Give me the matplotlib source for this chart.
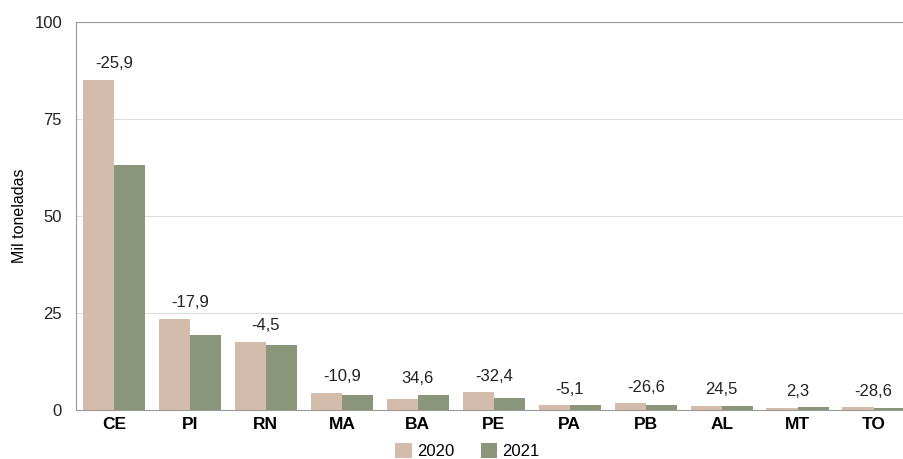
import matplotlib.pyplot as plt
import numpy as np

plt.rcParams['font.family'] = ['Liberation Sans', 'DejaVu Sans']

estados = ["CE", "PI", "RN", "MA", "BA", "PE", "PA", "PB", "AL", "MT", "TO"]
v2020 = [85.1, 23.5, 17.6, 4.4, 2.9, 4.6, 1.3, 1.7, 0.9, 0.6, 0.75]
v2021 = [63.1, 19.3, 16.8, 3.9, 3.9, 3.1, 1.2, 1.25, 1.1, 0.62, 0.54]
variacao = ["-25,9", "-17,9", "-4,5", "-10,9", "34,6", "-32,4", "-5,1", "-26,6", "24,5", "2,3", "-28,6"]

cor2020 = "#D4BCAC"
cor2021 = "#8B957A"

fig = plt.figure(figsize=(9.04, 4.59), dpi=100)
ax = fig.add_axes([0.084, 0.107, 0.916, 0.845])

x = np.arange(len(estados))
w = 0.41
ax.bar(x - w / 2, v2020, w, color=cor2020, label="2020", zorder=2)
ax.bar(x + w / 2, v2021, w, color=cor2021, label="2021", zorder=2)

for i, txt in enumerate(variacao):
    top = max(v2020[i], v2021[i])
    ax.annotate(txt, (x[i], top), xytext=(0, 6), textcoords="offset points",
                ha="center", va="bottom", fontsize=12, color="#222222")

ax.set_ylim(0, 100)
ax.set_xlim(-0.5, 10.4)
ax.set_yticks([0, 25, 50, 75, 100])
ax.yaxis.grid(True, color="#DDDDDD", linewidth=0.8, zorder=0)
ax.set_xticks(x)
ax.set_xticklabels(estados, fontweight="bold", fontsize=12.5)
ax.tick_params(axis="y", labelsize=12, length=0, pad=10, colors="#222222")
ax.tick_params(axis="x", length=0, pad=5)

for s in ["left", "top"]:
    ax.spines[s].set_color("#999999")
    ax.spines[s].set_linewidth(0.8)
ax.spines["right"].set_visible(False)
ax.spines["bottom"].set_color("#999999")

ax.set_ylabel("Mil toneladas", fontsize=11.5, labelpad=5)

handles, labels = ax.get_legend_handles_labels()
fig.legend(handles, labels, loc="center", bbox_to_anchor=(0.517, 0.017), ncol=2,
           frameon=False, fontsize=12, handlelength=1.0, handleheight=1.0,
           columnspacing=1.6, handletextpad=0.3, borderpad=0)

fig.savefig("out.png", dpi=100)
